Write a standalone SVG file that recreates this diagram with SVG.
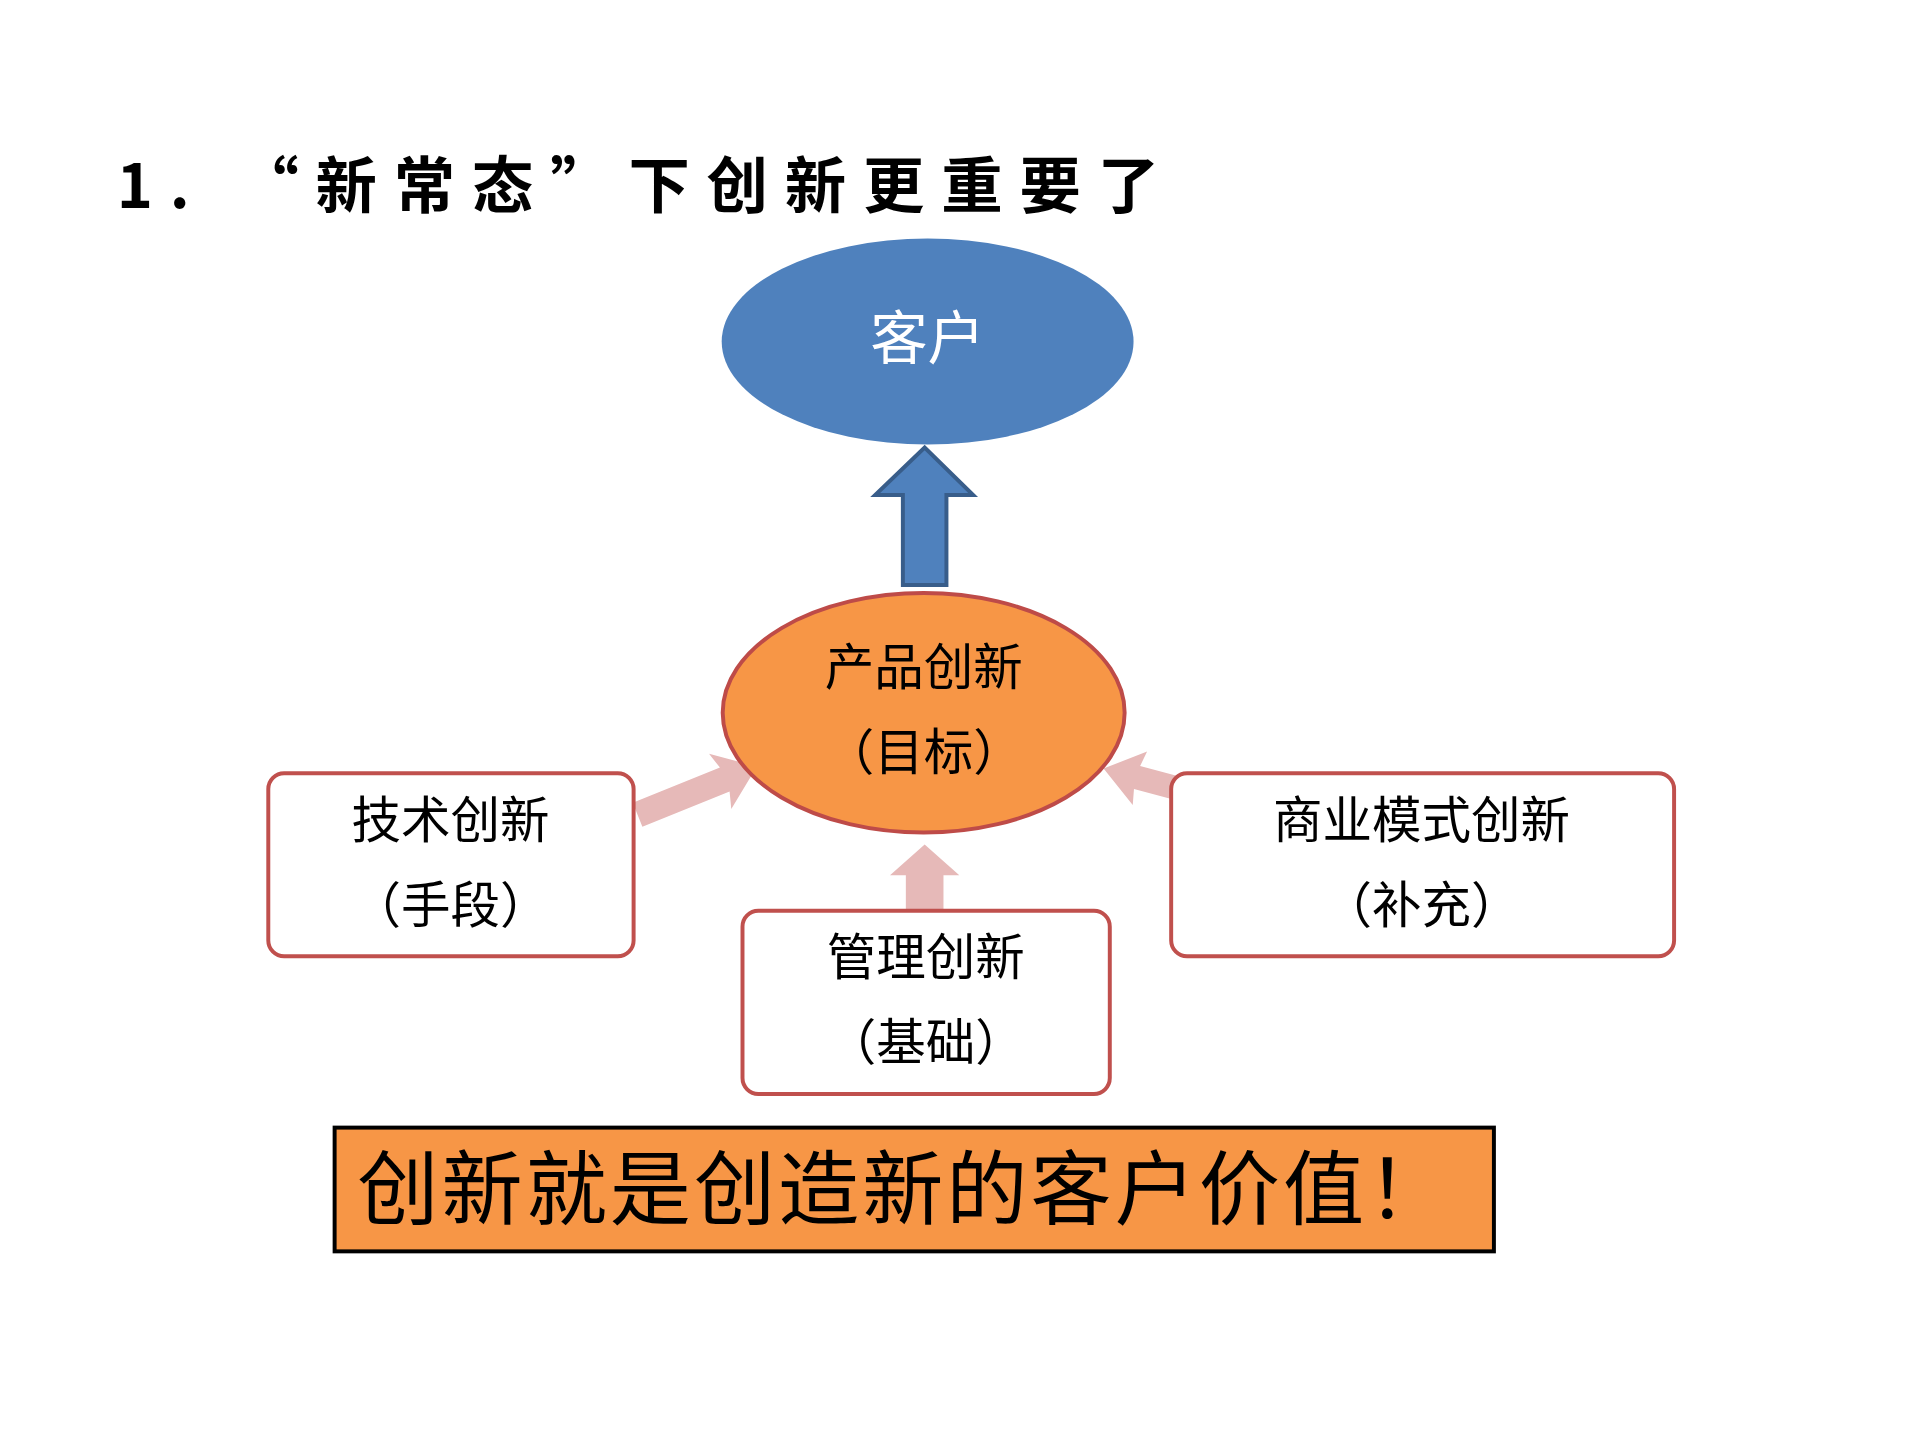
<svg xmlns="http://www.w3.org/2000/svg" width="1919" height="1439" viewBox="0 0 1919 1439">
<style>
text{font-family:"Noto Sans CJK SC","Liberation Sans",sans-serif;}
.box{fill:#fff;stroke:#C0504D;stroke-width:4;}
.lbl{font-size:50px;fill:#000;text-anchor:middle;}
.pink{fill:#E6B9B8;}
</style>
<rect width="1919" height="1439" fill="#fff"/>
<g transform="scale(0.99)">
<text x="118" y="210" font-size="62" font-weight="bold" letter-spacing="17">1.  “新常态”下创新更重要了</text>
<g id="kehu">
<ellipse cx="937" cy="345" rx="208" ry="104" fill="#4F81BD"/>
<text x="937" y="363" font-size="58" fill="#fff" text-anchor="middle">客户</text>
</g>
<g id="connectors">
<polygon points="912,591 956,591 956,500 983,500 934,452 884,500 912,500" fill="#4F81BD" stroke="#385D8A" stroke-width="4"/>
<polygon class="pink" points="0,-13 95,-13 90,-30 130,0 90,30 95,13 0,13" transform="translate(644,823) rotate(-22)"/>
<polygon class="pink" points="915,920 953,920 953,884 969,884 934,853 899,884 915,884"/>
<polygon class="pink" points="0,-12 45,-12 42,-28 80,0 42,28 45,12 0,12" transform="translate(1192,797) rotate(195)"/>
</g>
<g id="chanpin">
<ellipse cx="933" cy="720" rx="203" ry="121" fill="#F79646" stroke="#BE4B48" stroke-width="4"/>
<text class="lbl" x="933" y="692">产品创新</text>
<text class="lbl" x="933" y="778">（目标）</text>
</g>
<g id="jishu">
<rect class="box" x="271" y="781" width="369" height="185" rx="16"/>
<text class="lbl" x="455" y="846">技术创新</text>
<text class="lbl" x="455" y="932">（手段）</text>
</g>
<g id="guanli">
<rect class="box" x="750" y="920" width="371" height="185" rx="16"/>
<text class="lbl" x="935" y="985">管理创新</text>
<text class="lbl" x="935" y="1071">（基础）</text>
</g>
<g id="shangye">
<rect class="box" x="1183" y="781" width="508" height="185" rx="16"/>
<text class="lbl" x="1436" y="846">商业模式创新</text>
<text class="lbl" x="1436" y="932">（补充）</text>
</g>
<g id="banner">
<rect x="338" y="1139" width="1171" height="125" fill="#F79646" stroke="#000" stroke-width="4"/>
<text x="361" y="1230" font-size="82" fill="#000" letter-spacing="3">创新就是创造新的客户价值！</text>
</g>
</g>
</svg>
